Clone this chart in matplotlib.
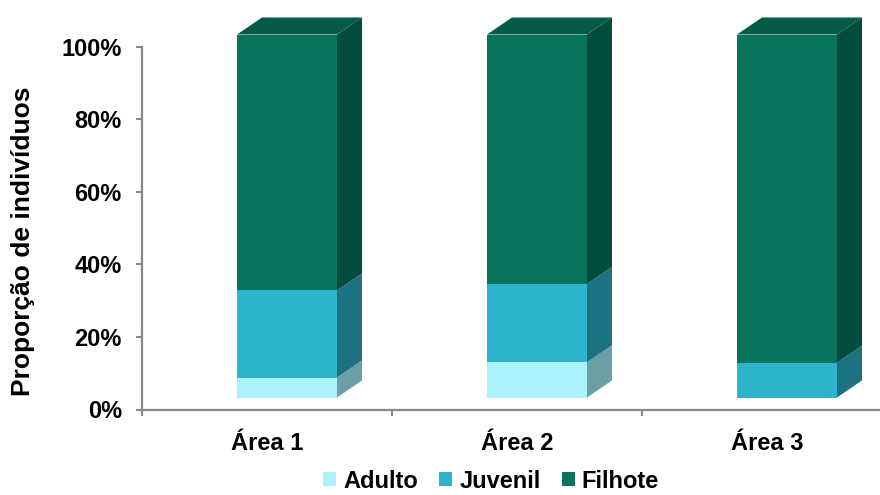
import matplotlib
matplotlib.use('Agg')
import matplotlib.pyplot as plt
from matplotlib.patches import Polygon, Patch

plt.rcParams['font.family'] = ['Liberation Sans', 'DejaVu Sans']
plt.rcParams['font.weight'] = 'bold'

areas = ['Área 1', 'Área 2', 'Área 3']
series = ['Adulto', 'Juvenil', 'Filhote']
adulto = [5.5, 9.7, 0.0]
juvenil = [24.0, 21.6, 9.6]
filhote = [70.5, 68.7, 90.4]
yticks = [0, 20, 40, 60, 80, 100]

front_cols = ['#aaf3fc', '#2eb4cb', '#08745c']
side_cols = ['#6a9fa5', '#1d7282', '#034b3b']
top_col = '#065a48'

# 3d look: front face offset and depth (category units / percent)
x_lo, x_hi = -0.12, 0.28
dx, dy = 0.10, 4.7
base = 3.3

fig = plt.figure(figsize=(8.8, 4.95), dpi=100)
ax = fig.add_axes([142 / 880, 85.5 / 495, 750 / 880, 363 / 495])
ax.set_xlim(-0.5, 2.5)
ax.set_ylim(0, 100)

for i in range(len(areas)):
    vals = [adulto[i], juvenil[i], filhote[i]]
    x0, x1 = i + x_lo, i + x_hi
    b = base
    for k, v in enumerate(vals):
        if v <= 0:
            continue
        t = b + v
        ax.add_patch(Polygon([(x0, b), (x1, b), (x1, t), (x0, t)], closed=True,
                             fc=front_cols[k], ec='none', clip_on=False))
        ax.add_patch(Polygon([(x1, b), (x1 + dx, b + dy), (x1 + dx, t + dy), (x1, t)],
                             closed=True, fc=side_cols[k], ec='none', clip_on=False))
        b = t
    ax.add_patch(Polygon([(x0, b), (x1, b), (x1 + dx, b + dy), (x0 + dx, b + dy)],
                         closed=True, fc=top_col, ec='none', clip_on=False))

for s in ['top', 'right']:
    ax.spines[s].set_visible(False)
for s in ['left', 'bottom']:
    ax.spines[s].set_color('#898989')
    ax.spines[s].set_linewidth(1.6)

ax.set_yticks(yticks)
ax.set_yticklabels([f'{v}%' for v in yticks], fontsize=17, fontweight='bold')
ax.tick_params(axis='y', direction='out', length=4.5, width=1.5, color='#898989', pad=10)
ax.set_xticks(range(len(areas)))
ax.set_xticklabels(areas, fontsize=17, fontweight='bold')
ax.tick_params(axis='x', which='major', length=0, pad=16)
ax.set_xticks([-0.5, 0.5, 1.5, 2.5], minor=True)
ax.tick_params(axis='x', which='minor', direction='out', length=4.5, width=1.5, color='#898989')

fig.text(23 / 880, 1 - 241 / 495, 'Proporção de indivíduos', rotation=90,
         ha='center', va='center', fontsize=19, fontweight='bold')

handles = [Patch(fc=c, ec='none') for c in front_cols]
fig.legend(handles, series, loc='center', bbox_to_anchor=(491 / 880, 1 - 481 / 495),
           ncol=3, frameon=False, prop={'size': 17, 'weight': 'bold'},
           handlelength=0.55, handleheight=0.55, handletextpad=0.3, columnspacing=0.9)

fig.savefig('out.png', dpi=100)
